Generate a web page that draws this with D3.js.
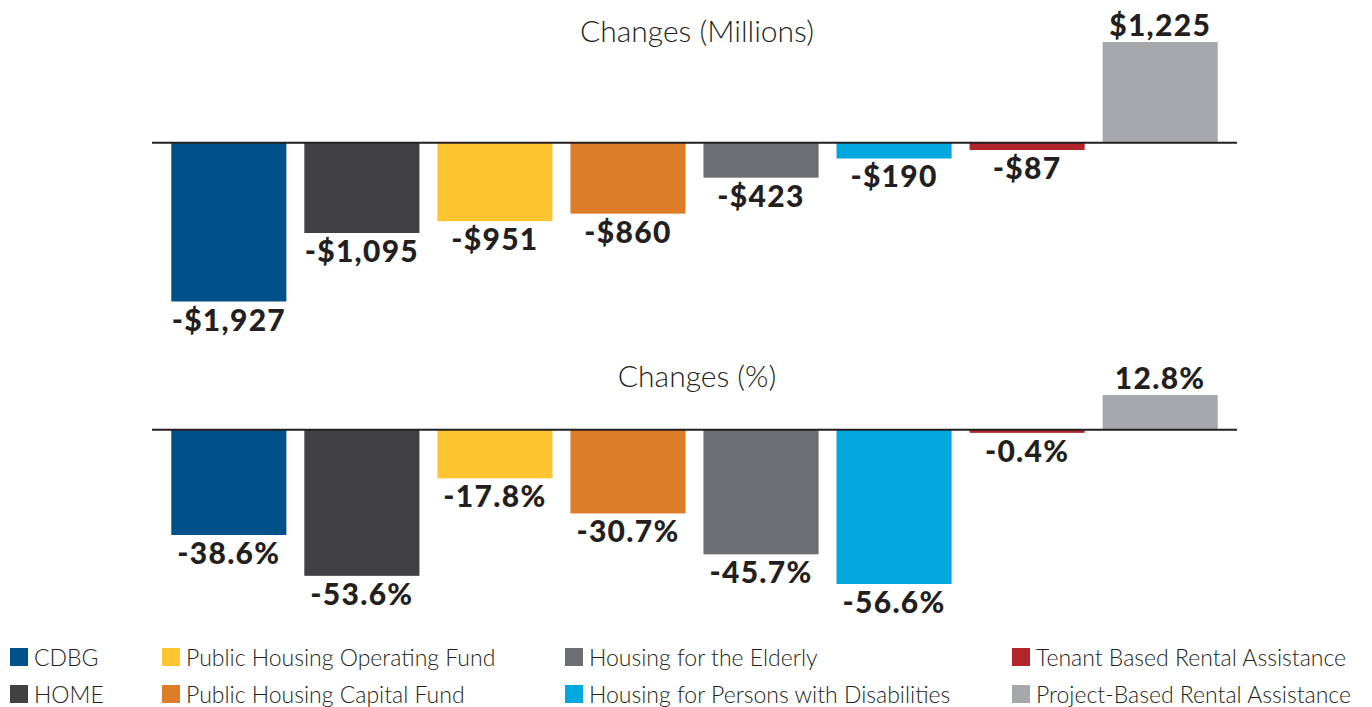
<!DOCTYPE html>
<html>
<head>
<meta charset="utf-8">
<script src="https://cdnjs.cloudflare.com/ajax/libs/d3/7.8.5/d3.min.js"></script>
<style>
  html, body { margin: 0; padding: 0; background: #fff; }
  svg { display: block; font-family: Lato, "Open Sans", sans-serif; }
  .title { font-size: 30px; font-weight: 300; fill: #231f20; }
  .label { font-size: 30px; font-weight: 900; fill: #231f20; letter-spacing: 1.3px; }
  .legend text { font-size: 23px; font-weight: 300; fill: #231f20; }
</style>
</head>
<body>
<svg id="chart"></svg>
<script>
// programs
const programs = [
  'CDBG',
  'HOME',
  'Public Housing Operating Fund',
  'Public Housing Capital Fund',
  'Housing for the Elderly',
  'Housing for Persons with Disabilities',
  'Tenant Based Rental Assistance',
  'Project-Based Rental Assistance'
];
const colors = ['#00508a', '#414042', '#ffc530', '#dd7d27', '#6d6e71', '#00a8df', '#b0262c', '#a7a8ab'];

// changes, millions of dollars
const changesMillions = [-1927, -1095, -951, -860, -423, -190, -87, 1225];
// changes, percent
const changesPct = [-38.6, -53.6, -17.8, -30.7, -45.7, -56.6, -0.4, 12.8];

const W = 1372, H = 707;
const LEFT = 152, RIGHT = 1237;

const $svg = d3.select('#chart').attr('width', W).attr('height', H);

const x = d3.scaleBand()
  .domain(programs)
  .range([LEFT, RIGHT])
  .paddingInner(0.135)
  .paddingOuter(0.145);

const fmtMoney = v => (v < 0 ? '-' : '') + '$' + d3.format(',')(Math.abs(v));
const fmtPct = v => (v < 0 ? '-' : '') + d3.format('.1f')(Math.abs(v)) + '%';

function drawPanel(values, yRange, title, titleY, fmt) {
  const y = d3.scaleLinear().domain(d3.extent(values)).range(yRange);
  const g = $svg.append('g');

  g.append('text')
    .attr('class', 'title')
    .attr('x', 697)
    .attr('y', titleY)
    .attr('text-anchor', 'middle')
    .text(title);

  const rows = programs.map((p, i) => ({ name: p, value: values[i], color: colors[i] }));

  g.selectAll('rect.bar')
    .data(rows)
    .join('rect')
    .attr('class', 'bar')
    .attr('x', d => x(d.name))
    .attr('width', x.bandwidth())
    .attr('y', d => d.value < 0 ? y(0) : y(d.value))
    .attr('height', d => Math.max(Math.abs(y(d.value) - y(0)), 3))
    .attr('fill', d => d.color);

  g.selectAll('text.label')
    .data(rows)
    .join('text')
    .attr('class', 'label')
    .attr('x', d => x(d.name) + x.bandwidth() / 2)
    .attr('y', d => d.value < 0 ? Math.max(y(d.value), y(0) + 3) + 29 : y(d.value) - 6)
    .attr('text-anchor', 'middle')
    .text(d => fmt(d.value));

  // zero line
  g.append('line')
    .attr('x1', LEFT).attr('x2', RIGHT)
    .attr('y1', y(0)).attr('y2', y(0))
    .attr('stroke', '#231f20')
    .attr('stroke-width', 2);
}

drawPanel(changesMillions, [301.5, 42], 'Changes (Millions)', 42, fmtMoney);
drawPanel(changesPct, [584, 395], 'Changes (%)', 387, fmtPct);

// legend, two rows per column
const legendCols = [10, 162, 565, 1012];
const legend = $svg.append('g').attr('class', 'legend');
const item = legend.selectAll('g')
  .data(programs)
  .join('g')
  .attr('transform', (d, i) => `translate(${legendCols[Math.floor(i / 2)]}, ${648 + (i % 2) * 37})`);

item.append('rect')
  .attr('width', 18)
  .attr('height', 18)
  .attr('fill', (d, i) => colors[i]);

item.append('text')
  .attr('x', 24)
  .attr('y', 18)
  .text(d => d);
</script>
</body>
</html>
